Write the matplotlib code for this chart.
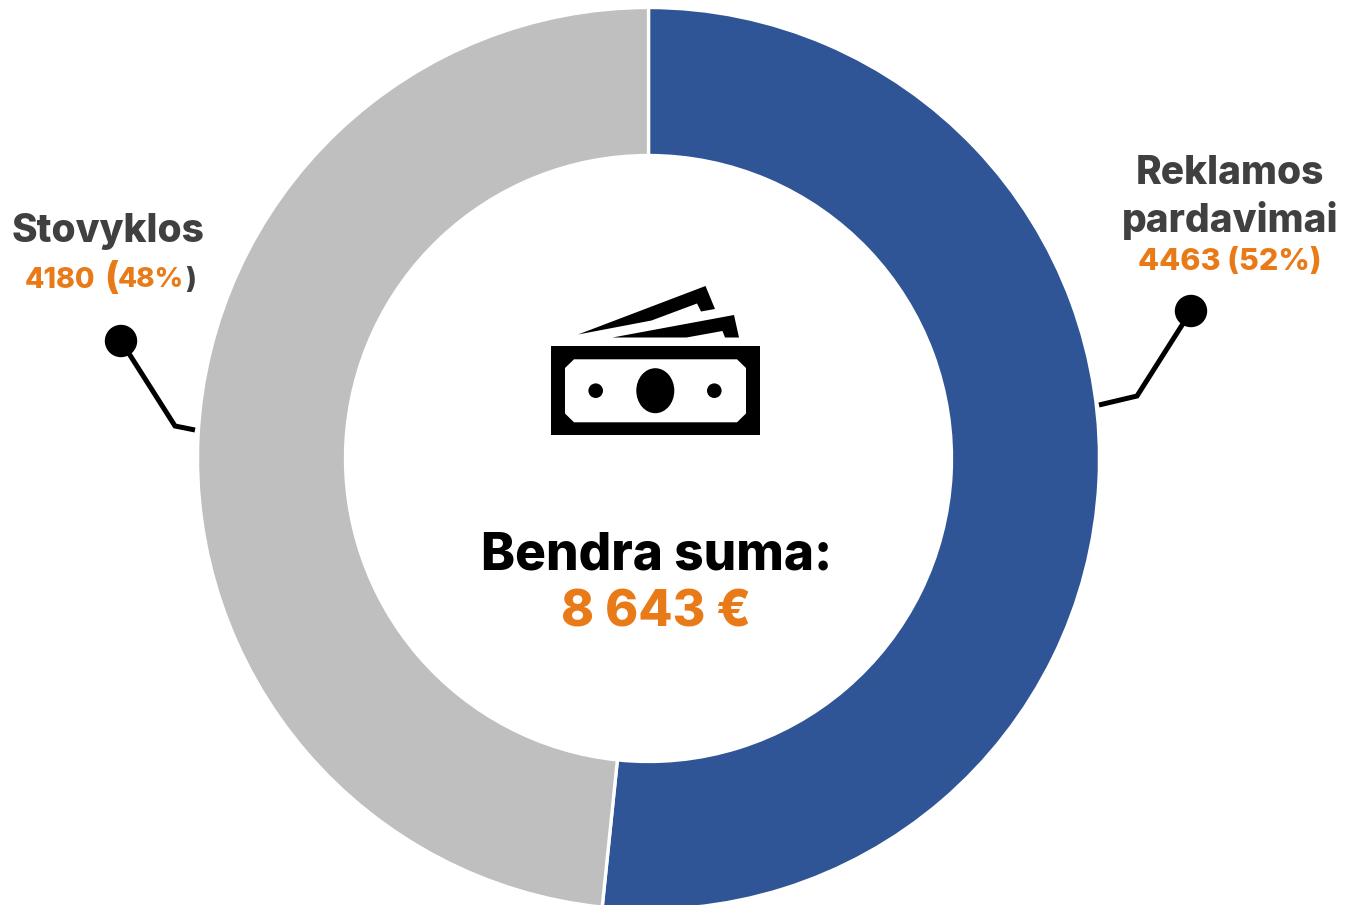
import matplotlib
matplotlib.use("Agg")
import matplotlib.pyplot as plt
from matplotlib.patches import Polygon, Rectangle, Ellipse, Circle

labels = ["Reklamos\npardavimai", "Stovyklos"]
values = [4463, 4180]
percents = [52, 48]
total_text = "8 643 €"

W, H = 1347, 905
BLUE = "#2F5597"
GREY = "#BFBFBF"
ORANGE = "#E97A18"
DARK = "#404040"

plt.rcParams['font.family'] = ['Inter', 'DejaVu Sans']

fig = plt.figure(figsize=(W / 100, H / 100), dpi=100)
ax = fig.add_axes([0, 0, 1, 1])


def yy(y):
    # picture pixels count from the top
    return H - y


ax.pie(values, colors=[BLUE, GREY], startangle=90, counterclock=False,
       center=(648.5, yy(458.5)), radius=451,
       wedgeprops=dict(width=148, edgecolor="white", linewidth=2.4), frame=True)
ax.set_xlim(0, W)
ax.set_ylim(0, H)
ax.set_aspect("equal")
ax.axis("off")

# leader lines
for pts in ([(1099, 405), (1137, 396), (1191, 311)], [(195, 430), (175, 426), (121, 341)]):
    ax.plot([p[0] for p in pts], [yy(p[1]) for p in pts], color="black", lw=3.6,
            solid_joinstyle="miter", solid_capstyle="butt")
    ax.add_patch(Circle((pts[2][0], yy(pts[2][1])), 15.5, color="black", zorder=3))

# money icon
ax.add_patch(Rectangle((550.7, yy(435.5)), 209.3, 89.5, color="black", lw=0))
oct_pts = [(574, 359.3), (737, 359.3), (746, 368), (746, 413.5), (737, 422.3),
           (574, 422.3), (565, 413.5), (565, 368)]
ax.add_patch(Polygon([(x, yy(y)) for x, y in oct_pts], color="white", lw=0, zorder=3))
ax.add_patch(Ellipse((655.3, yy(390.7)), 38, 45, color="black", lw=0, zorder=4))
for cx in (595.7, 714.3):
    ax.add_patch(Circle((cx, yy(390.7)), 7.3, color="black", lw=0, zorder=4))
note1 = [(578, 334.5), (705.5, 286), (715, 309), (701, 311.5), (697, 303.5), (651.5, 320.5)]
note2 = [(612.5, 337.5), (734, 315), (739, 337.5), (725, 337.5), (722.5, 331), (686.5, 337.5)]
for note in (note1, note2):
    ax.add_patch(Polygon([(x, yy(y)) for x, y in note], color="black", lw=0))

# centre text
ax.text(657, yy(551), "Bendra suma:", color="black", fontsize=37, fontweight=800,
        ha="center", va="center_baseline")
ax.text(656, yy(608), total_text, color=ORANGE, fontsize=36, fontweight=800,
        ha="center", va="center_baseline")

# right label
ax.text(1230, yy(170), labels[0].split("\n")[0], color=DARK, fontsize=28, fontweight=800,
        ha="center", va="center_baseline")
ax.text(1230, yy(216), labels[0].split("\n")[1], color=DARK, fontsize=28, fontweight=800,
        ha="center", va="center_baseline")
ax.text(1230, yy(259), f"{values[0]} ({percents[0]}%)", color=ORANGE, fontsize=22,
        fontweight=800, ha="center", va="center_baseline")

# left label, bracket sizes and colours differ in the original
ax.text(108, yy(228), labels[1], color=DARK, fontsize=28, fontweight=800,
        ha="center", va="center_baseline")
ax.text(25, yy(277), str(values[1]), color=ORANGE, fontsize=20.5, fontweight=800,
        ha="left", va="center_baseline")
ax.text(104, yy(275), "(", color=ORANGE, fontsize=27, fontweight=800,
        ha="left", va="center_baseline")
ax.text(118, yy(277), f"{percents[1]}%", color=ORANGE, fontsize=20, fontweight=800,
        ha="left", va="center_baseline")
ax.text(185, yy(277), ")", color=DARK, fontsize=20.5, fontweight=800,
        ha="left", va="center_baseline")

fig.savefig("out.png", dpi=100)
